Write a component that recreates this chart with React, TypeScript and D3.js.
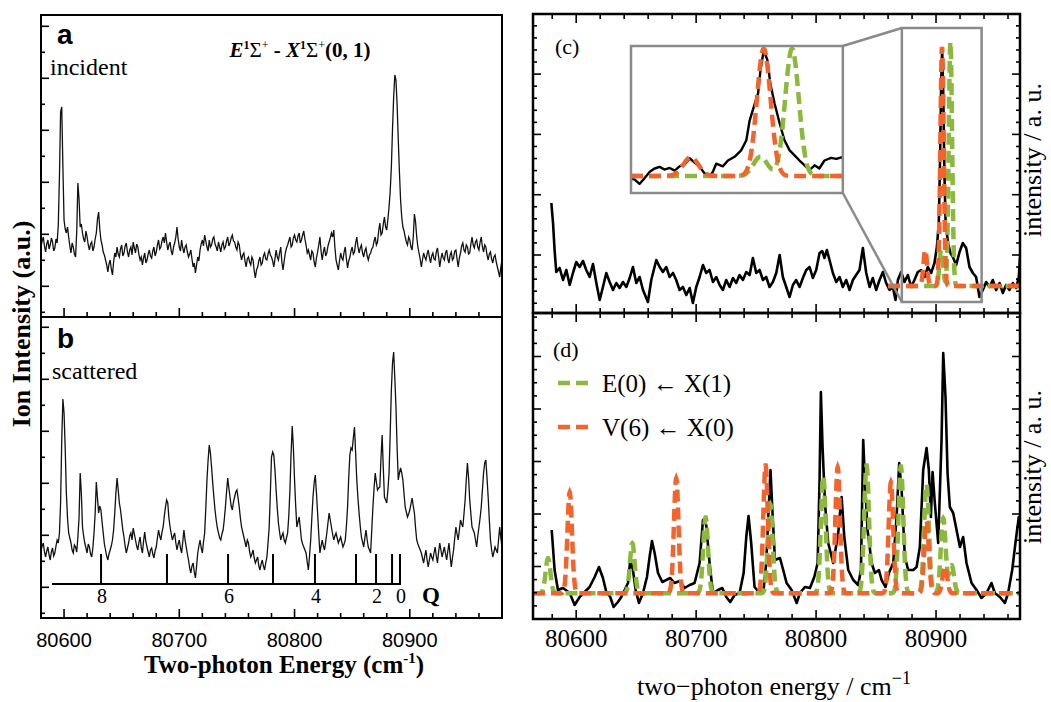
import React from 'react';
import * as d3 from 'd3';

// ---------- axes ----------
const leftXDomain = [80580, 80980];
const rightXDomain = [80564, 80970];
const xTickLabels = [80600, 80700, 80800, 80900];

// ---------- panel a / b (uniform grid, step 1 cm-1) ----------
const gridStart = 80580;
const gridStep = 1;
const incident = [
  70, 76, 80, 71, 65, 73, 77, 68, 72, 79, 75, 66, 69, 78, 74, 92, 140, 205, 210, 150,
  97, 88, 84, 90, 80, 71, 64, 74, 70, 63, 60, 85, 134, 118, 90, 93, 84, 78, 75, 86,
  80, 72, 67, 73, 75, 66, 70, 78, 84, 98, 105, 88, 77, 72, 65, 62, 57, 52, 45, 53,
  57, 48, 42, 55, 64, 60, 70, 63, 60, 68, 72, 61, 64, 71, 74, 65, 60, 67, 70, 62,
  75, 69, 64, 73, 70, 62, 57, 60, 52, 59, 64, 54, 57, 63, 67, 61, 59, 66, 70, 61,
  65, 72, 77, 68, 70, 76, 80, 74, 84, 75, 67, 72, 75, 66, 62, 70, 74, 80, 90, 78,
  70, 66, 77, 69, 64, 70, 72, 65, 60, 63, 67, 58, 50, 54, 44, 52, 60, 56, 67, 73,
  77, 71, 82, 76, 70, 66, 77, 70, 72, 78, 80, 73, 70, 66, 75, 70, 65, 72, 75, 68,
  70, 76, 80, 71, 74, 79, 82, 76, 75, 70, 67, 75, 72, 63, 57, 62, 64, 56, 50, 58,
  60, 55, 52, 60, 57, 46, 39, 47, 50, 56, 60, 52, 54, 61, 64, 58, 57, 63, 67, 62,
  60, 56, 50, 58, 67, 60, 57, 64, 70, 55, 47, 56, 64, 69, 72, 76, 80, 70, 72, 79,
  82, 77, 75, 81, 84, 74, 77, 82, 86, 78, 72, 64, 67, 62, 57, 66, 64, 55, 50, 59,
  65, 72, 80, 66, 57, 65, 70, 61, 64, 71, 75, 79, 84, 80, 87, 70, 57, 52, 47, 56,
  64, 59, 57, 65, 70, 58, 49, 56, 60, 66, 70, 63, 65, 74, 80, 70, 64, 69, 72, 64,
  60, 66, 69, 61, 57, 62, 64, 68, 70, 76, 80, 72, 75, 86, 94, 82, 84, 93, 100, 90,
  87, 98, 110, 126, 150, 188, 220, 242, 237, 212, 177, 145, 117, 100, 90, 86, 80, 75, 72, 80,
  77, 70, 67, 80, 103, 95, 80, 70, 64, 58, 50, 57, 64, 60, 57, 63, 67, 60, 54, 61,
  64, 58, 57, 65, 69, 60, 50, 58, 64, 59, 57, 64, 67, 58, 54, 62, 65, 57, 59, 66,
  67, 58, 50, 59, 64, 71, 74, 67, 65, 72, 70, 63, 64, 73, 80, 72, 69, 75, 77, 70,
  67, 75, 80, 70, 65, 72, 70, 62, 57, 63, 65, 58, 54, 60, 62, 55, 50, 45, 40, 50,
  57,
];
const scattered = [
  68, 72, 75, 66, 61, 67, 71, 63, 58, 66, 70, 62, 65, 72, 78, 75, 85, 115, 178, 219,
  205, 170, 125, 100, 85, 80, 75, 68, 65, 73, 71, 66, 81, 100, 145, 125, 91, 82, 75, 70,
  65, 74, 71, 64, 61, 70, 85, 105, 136, 120, 105, 112, 108, 96, 85, 74, 68, 62, 58, 64,
  68, 72, 78, 88, 105, 125, 140, 128, 115, 108, 98, 88, 81, 72, 65, 70, 75, 82, 85, 78,
  90, 84, 78, 72, 68, 76, 81, 70, 65, 77, 86, 76, 71, 66, 61, 68, 70, 64, 60, 67,
  71, 80, 88, 82, 78, 86, 91, 102, 111, 118, 115, 100, 91, 84, 78, 82, 85, 75, 68, 74,
  78, 70, 65, 76, 88, 78, 71, 64, 58, 50, 45, 52, 55, 46, 40, 52, 65, 72, 78, 70,
  65, 76, 85, 110, 138, 158, 173, 165, 151, 135, 121, 108, 98, 90, 85, 80, 78, 84, 88, 98,
  111, 126, 140, 130, 121, 112, 108, 116, 121, 126, 128, 120, 111, 100, 91, 86, 81, 76, 71, 78,
  75, 66, 61, 64, 68, 60, 55, 58, 61, 52, 48, 54, 58, 52, 48, 55, 61, 75, 91, 125,
  161, 166, 163, 148, 128, 110, 95, 86, 78, 82, 85, 78, 75, 80, 85, 102, 128, 165, 192, 170,
  138, 112, 91, 96, 101, 90, 78, 74, 71, 68, 65, 56, 48, 62, 78, 100, 121, 135, 143, 125,
  105, 84, 65, 72, 78, 72, 68, 76, 85, 95, 105, 98, 91, 84, 78, 82, 85, 80, 75, 78,
  81, 76, 71, 74, 78, 92, 111, 140, 163, 170, 168, 180, 191, 165, 138, 120, 105, 92, 81, 76,
  71, 80, 88, 78, 71, 68, 65, 88, 111, 130, 145, 136, 128, 130, 131, 160, 183, 150, 121, 118,
  115, 128, 145, 185, 228, 255, 266, 240, 211, 170, 138, 145, 150, 145, 138, 124, 111, 106, 101, 104,
  108, 114, 120, 112, 105, 90, 78, 74, 71, 68, 65, 60, 55, 62, 68, 58, 51, 58, 65, 61,
  58, 65, 71, 62, 55, 66, 75, 68, 61, 66, 71, 64, 58, 67, 75, 62, 51, 60, 68, 80,
  91, 84, 78, 88, 98, 94, 91, 104, 118, 138, 155, 140, 118, 104, 91, 88, 85, 78, 71, 82,
  91, 100, 111, 128, 145, 155, 158, 140, 121, 98, 78, 68, 61, 66, 71, 68, 65, 78, 91, 80,
  71,
];

// Q-branch ladder (J, position)
const qJ = [8, 7, 6, 5, 4, 3, 2, 1, 0];
const qPos = [80632.1, 80689.3, 80742.3, 80781.3, 80817.7, 80853.3, 80870.7, 80884.6, 80891.5];
const qLineStart = 80589.5;
const qLineEnd = 80892.4;
const qLevels = [34, 64];

// ---------- panel c ----------
const traceC: [number, number][] = [
  [80579.3,110],[80580.7,90],[80582,63],[80583.4,41],[80586.2,45],[80589,33],[80591.8,43],[80594.6,28],[80597.3,40],[80600.1,51],
  [80602.9,46],[80605.7,52],[80608.4,43],[80611.2,36],[80614,49],[80616.8,30],[80619.6,13],[80622.3,26],[80625.1,40],[80627.9,31],
  [80630.7,23],[80633.4,30],[80636.2,25],[80639,31],[80641.8,26],[80644.6,35],[80647.3,46],[80650.1,30],[80652.9,36],[80655.7,23],
  [80659.8,11],[80662.6,33],[80666.8,53],[80669.6,46],[80672.3,41],[80675.1,46],[80677.9,36],[80680.7,40],[80683.4,33],[80686.2,23],
  [80689,26],[80691.8,18],[80694.6,25],[80697.3,10],[80700.1,26],[80702.9,36],[80705.7,48],[80708.4,40],[80711.2,43],[80714,31],
  [80716.8,36],[80719.6,28],[80722.3,23],[80725.1,33],[80727.9,26],[80730.7,35],[80733.4,30],[80736.2,38],[80739,33],[80741.8,41],
  [80744.6,38],[80747.3,55],[80750.1,40],[80752.9,43],[80755.7,33],[80758.4,36],[80761.2,26],[80764,31],[80766.8,40],[80769.6,58],
  [80772.3,36],[80775.1,26],[80777.9,16],[80780.7,28],[80783.4,33],[80786.2,26],[80789,35],[80791.8,43],[80794.6,46],[80797.3,35],
  [80800.1,43],[80802.9,60],[80805.1,62],[80807,55],[80809,63],[80811.2,53],[80814,40],[80816.8,31],[80819.6,36],[80822.3,26],
  [80825.1,33],[80827.9,23],[80830.7,33],[80833.4,38],[80836.2,43],[80839,65],[80841.8,40],[80844.6,26],[80847.3,35],[80850.1,23],
  [80852.9,33],[80855.7,41],[80858.4,30],[80861.2,23],[80864,26],[80866.2,13],[80868.2,33],[80870.9,41],[80873.7,31],[80876.5,38],
  [80879.3,26],[80882,33],[80884.8,41],[80887.6,43],[80890.4,36],[80893.2,46],[80895.9,40],[80898.7,50],[80900.7,66],[80902.3,90],
  [80903.3,150],[80904.3,230],[80905.1,264],[80906,220],[80907,140],[80908,90],[80910,70],[80912,60],[80914,56],[80916.8,48],
  [80919.6,61],[80922.3,70],[80925.1,65],[80927.9,46],[80930.7,40],[80933.4,36],[80936.2,16],[80939,23],[80941.8,31],[80944.6,26],
  [80947.3,33],[80950.1,23],[80952.9,30],[80955.7,20],[80958.4,28],[80961.2,23],[80964,30],[80966.8,25],[80969,36],[80970,56],
];
// simulated line lists: [centre, amplitude, width]
const baselineC = 27;
const modelCRange = [80860, 80970];
const peaksC_E: [number, number, number][] = [[80904.3, 36, 1.5], [80912, 244, 1.4]];
const peaksC_V: [number, number, number][] = [[80891, 36, 1.5], [80905, 239, 1.4]];

// inset of panel c
const insetXDomain = [80880, 80925];
const insetYDomain = [-5, 271];
const insetPlaceX = [80645.7, 80822.3];
const insetPlaceY = [120, 267];
const zoomBoxX = [80871.5, 80938];
const zoomBoxY = [11, 285];
const traceInset: [number, number][] = [
  [80880,22],[80880.8,20],[80881.8,12],[80882.9,23],[80884,35],[80885,41],[80886.1,44],[80887.1,39],[80888.2,42],[80889.3,37],
  [80890.3,45],[80891.4,49],[80892.5,60],[80893.5,52],[80894.6,44],[80895.6,32],[80896.7,26],[80897.4,35],[80898.1,50],[80899.5,45],
  [80900.6,56],[80902,63],[80903.4,75],[80904.5,94],[80905.2,131],[80906.1,157],[80907,182],[80907.5,225],[80908.2,263],[80909,244],
  [80909.6,200],[80910.5,163],[80911.6,125],[80912.6,94],[80913.7,75],[80914.7,66],[80915.8,56],[80916.9,47],[80917.9,38],[80919,47],
  [80920,41],[80921.1,56],[80922.5,61],[80923.6,59],[80924.7,62],[80925,60],
];
const peaksI_E: [number, number, number][] = [[80907.5, 36, 1.5], [80914.2, 239, 1.45]];
const peaksI_V: [number, number, number][] = [[80892.7, 35, 1.6], [80908.2, 239, 1.45]];

// ---------- panel d ----------
const traceD: [number, number][] = [
  [80579.6,89],[80582,49],[80584.8,29],[80589,31],[80594.6,26],[80598.7,14],[80602.9,22],[80607,27],[80611.2,32],[80615.4,42],
  [80619,52],[80622.3,41],[80625.1,27],[80628.4,22],[80631.2,12],[80634.8,17],[80637.6,22],[80640.4,29],[80643.2,36],[80645.1,59],
  [80647.3,49],[80649.6,29],[80652.3,16],[80655.7,26],[80659,42],[80661.2,62],[80663.2,78],[80665.4,66],[80668.2,46],[80671.8,37],
  [80675.1,39],[80678.4,41],[80682,36],[80686.2,38],[80690.4,31],[80694.6,34],[80698.7,36],[80702.9,56],[80705.7,99],[80708.4,94],
  [80711.2,56],[80714,26],[80718.2,29],[80721.8,31],[80725.1,22],[80728.4,17],[80732.1,24],[80736.2,26],[80739.6,46],[80741.8,82],
  [80743.7,103],[80745.9,76],[80748.7,32],[80752.9,26],[80756.2,29],[80758.4,56],[80760.7,116],[80762,149],[80763.5,110],[80765.7,59],
  [80769.9,61],[80772.6,49],[80775.4,36],[80779.6,29],[80783.8,16],[80786.5,26],[80790.7,32],[80794.9,31],[80798.5,42],[80801.3,56],
  [80802.9,139],[80804,227],[80805.4,172],[80807.4,116],[80810.1,76],[80814.3,56],[80818.5,86],[80819.6,102],[80821.3,122],[80823.5,82],
  [80826.8,49],[80831,39],[80835.1,34],[80837.4,49],[80839.3,179],[80840.7,139],[80842.9,89],[80846.3,56],[80849,46],[80852.4,49],
  [80854.6,39],[80857.9,32],[80860.7,46],[80864.3,56],[80867.1,102],[80869.3,156],[80871.3,129],[80874,62],[80876.8,49],[80881,49],
  [80883.8,52],[80886.5,72],[80889.3,149],[80892.1,171],[80894,149],[80895.7,102],[80897.1,147],[80899,116],[80901.8,76],[80904.6,179],
  [80906,266],[80907.9,222],[80909.6,146],[80911.5,112],[80914.3,106],[80917.1,89],[80919.9,72],[80922.6,82],[80925.4,56],[80929.6,36],
  [80933.8,29],[80937.9,21],[80942.1,26],[80946.2,36],[80949,26],[80953.2,22],[80957.4,16],[80960.1,26],[80963.5,49],[80966.2,76],
  [80969,102],[80970,95],
];
const baselineD = 25.7;
const peaksD_E: [number, number, number][] = [
  [80576.5, 35, 2], [80646.8, 50, 2], [80707.9, 76, 2], [80761.8, 89, 2], [80806, 117, 2],
  [80842.1, 128, 2], [80870.7, 127, 2], [80892.1, 109, 2], [80906, 75, 2], [80913, 28, 2],
];
const peaksD_V: [number, number, number][] = [
  [80594.6, 101, 1.9], [80683.4, 115, 1.9], [80757.9, 128, 1.9], [80818, 126, 1.9],
  [80862.4, 111, 1.9], [80892.1, 72, 1.9], [80907.4, 27, 1.9],
];

const legendItems = [
  { label: 'E(0) ← X(1)', color: 'green' },
  { label: 'V(6) ← X(0)', color: 'orange' },
];

// ---------- styling ----------
const W = 1051, H = 702;
const L = { x0: 41, x1: 502, aTop: 15, aBot: 317, bBot: 618 };
const R = { x0: 533, x1: 1020, cTop: 14, cBot: 313, dBot: 619 };
const serif = "'Liberation Serif', 'Times New Roman', serif";
const sans = "'Liberation Sans', Arial, sans-serif";
const GREEN = '#8cb83e';
const ORANGE = '#f2642e';
const GRAY = '#8a8a8a';
const DASH = '12 6';

function model(peaks: [number, number, number][], base: number, range: number[], step = 0.2): [number, number][] {
  const out: [number, number][] = [];
  const n = Math.round((range[1] - range[0]) / step);
  for (let i = 0; i <= n; i++) {
    const x = range[0] + i * step;
    let y = base;
    for (const [c, a, s] of peaks) y += a * Math.exp(-0.5 * ((x - c) / s) ** 2);
    out.push([x, y]);
  }
  return out;
}

export default function App() {
  const xL = d3.scaleLinear().domain(leftXDomain).range([L.x0, L.x1]);
  const yA = d3.scaleLinear().domain([0, 302]).range([L.aBot, L.aTop]);
  const yB = d3.scaleLinear().domain([0, 301]).range([L.bBot, L.aBot]);
  const xR = d3.scaleLinear().domain(rightXDomain).range([R.x0, R.x1]);
  const yC = d3.scaleLinear().domain([0, 299]).range([R.cBot, R.cTop]);
  const yD = d3.scaleLinear().domain([0, 306]).range([R.dBot, R.cBot]);
  const xI = d3.scaleLinear().domain(insetXDomain).range([xR(insetPlaceX[0]), xR(insetPlaceX[1])]);
  const yI = d3.scaleLinear().domain(insetYDomain).range([yC(insetPlaceY[0]), yC(insetPlaceY[1])]);

  const mk = (xs: any, ys: any) => d3.line<[number, number]>().x(d => xs(d[0])).y(d => ys(d[1]));

  const aData: [number, number][] = incident.map((v, i) => [gridStart + i * gridStep, v]);
  const bData: [number, number][] = scattered.map((v, i) => [gridStart + i * gridStep, v]);

  const lxTicks = d3.range(80600, 80961, 20);
  const rxTicks = d3.range(80580, 80961, 20);
  const lyTicks = d3.range(0, 12).map(k => ({ v: 4.7 + 26 * k, major: k % 2 === 1 }));
  const cyTicks = d3.range(0, 24).map(m => ({ v: 9.76 + 12.06 * m, major: m % 5 === 4 }));
  const dyTicks = d3.range(1, 24).map(m => ({ v: 13.125 * m, major: m % 4 === 0 }));

  const ix0 = xI.range()[0], ix1 = xI.range()[1];
  const iyb = yI.range()[0], iyt = yI.range()[1];
  const zx0 = xR(zoomBoxX[0]), zx1 = xR(zoomBoxX[1]);
  const zyb = yC(zoomBoxY[0]), zyt = yC(zoomBoxY[1]);

  const colorOf = (c: string) => (c === 'green' ? GREEN : ORANGE);

  return (
    <svg width={W} height={H} style={{ position: 'absolute', left: 0, top: 0, background: '#fff' }}>
      <defs>
        <clipPath id="clipA"><rect x={L.x0} y={L.aTop} width={L.x1 - L.x0} height={L.aBot - L.aTop} /></clipPath>
        <clipPath id="clipB"><rect x={L.x0} y={L.aBot} width={L.x1 - L.x0} height={L.bBot - L.aBot} /></clipPath>
        <clipPath id="clipC"><rect x={R.x0} y={R.cTop} width={R.x1 - R.x0} height={R.cBot - R.cTop} /></clipPath>
        <clipPath id="clipD"><rect x={R.x0} y={R.cBot} width={R.x1 - R.x0} height={R.dBot - R.cBot} /></clipPath>
        <clipPath id="clipI"><rect x={ix0} y={iyt} width={ix1 - ix0} height={iyb - iyt} /></clipPath>
      </defs>
      <rect width={W} height={H} fill="#fff" />

      {/* ================= LEFT ================= */}
      <g clipPath="url(#clipA)">
        <path d={mk(xL, yA)(aData) || ''} fill="none" stroke="#111" strokeWidth={1.3} />
      </g>
      <g clipPath="url(#clipB)">
        <path d={mk(xL, yB)(bData) || ''} fill="none" stroke="#111" strokeWidth={1.3} />
      </g>
      {/* Q ladder */}
      <line x1={xL(qLineStart)} x2={xL(qLineEnd)} y1={yB(qLevels[0])} y2={yB(qLevels[0])} stroke="#000" strokeWidth={2} />
      {qPos.map((p, i) => (
        <line key={'q' + i} x1={xL(p)} x2={xL(p)} y1={yB(qLevels[0])} y2={yB(qLevels[1])} stroke="#000" strokeWidth={2} />
      ))}
      {qPos.map((p, i) => qJ[i] % 2 === 0 ? (
        <text key={'ql' + i} x={xL(p) + 1} y={yB(qLevels[0]) + 19} fontFamily={serif} fontSize={20} textAnchor="middle">{qJ[i]}</text>
      ) : null)}
      <text x={xL(qLineEnd) + 30} y={yB(qLevels[0]) + 19} fontFamily={serif} fontWeight="bold" fontSize={23} textAnchor="middle">Q</text>

      {/* frames */}
      <rect x={L.x0} y={L.aTop} width={L.x1 - L.x0} height={L.aBot - L.aTop} fill="none" stroke="#000" strokeWidth={2} />
      <rect x={L.x0} y={L.aBot} width={L.x1 - L.x0} height={L.bBot - L.aBot} fill="none" stroke="#000" strokeWidth={2} />
      {/* left ticks */}
      {[L.aBot, L.bBot].map((yb, j) => lxTicks.map(t => (
        <line key={'lx' + j + t} x1={xL(t)} x2={xL(t)} y1={yb} y2={yb - (t % 100 === 0 ? 9 : 5)} stroke="#000" strokeWidth={1.6} />
      )))}
      {lyTicks.map((t, i) => (
        <line key={'lya' + i} x1={L.x0} x2={L.x0 + (t.major ? 8 : 4)} y1={yA(t.v)} y2={yA(t.v)} stroke="#000" strokeWidth={1.6} />
      ))}
      {lyTicks.map((t, i) => (
        <line key={'lyb' + i} x1={L.x0} x2={L.x0 + (t.major ? 8 : 4)} y1={yB(t.v)} y2={yB(t.v)} stroke="#000" strokeWidth={1.6} />
      ))}
      {xTickLabels.map(t => (
        <text key={'lxl' + t} x={xL(t)} y={647} fontFamily={sans} fontSize={20} textAnchor="middle">{t}</text>
      ))}
      <text x={284} y={673} fontFamily={serif} fontWeight="bold" fontSize={25} textAnchor="middle">
        Two-photon Energy (cm<tspan dy={-10} fontSize={15}>-1</tspan><tspan dy={10}>)</tspan>
      </text>
      <text transform="translate(30,324) rotate(-90)" fontFamily={serif} fontWeight="bold" fontSize={26} textAnchor="middle">Ion Intensity (a.u.)</text>
      <text x={57} y={44} fontFamily={sans} fontWeight="bold" fontSize={28}>a</text>
      <text x={57} y={348} fontFamily={sans} fontWeight="bold" fontSize={28}>b</text>
      <text x={50} y={75} fontFamily={serif} fontSize={24}>incident</text>
      <text x={52} y={379} fontFamily={serif} fontSize={24}>scattered</text>
      <text x={300} y={57} fontFamily={serif} fontWeight="bold" fontSize={21} textAnchor="middle">
        <tspan fontStyle="italic">E</tspan><tspan dy={-8} fontSize={12}>1</tspan><tspan dy={8} fontWeight="normal">Σ</tspan><tspan dy={-8} fontSize={12} fontWeight="normal">+</tspan><tspan dy={8}> - </tspan><tspan fontStyle="italic">X</tspan><tspan dy={-8} fontSize={12}>1</tspan><tspan dy={8} fontWeight="normal">Σ</tspan><tspan dy={-8} fontSize={12} fontWeight="normal">+</tspan><tspan dy={8}>(0, 1)</tspan>
      </text>

      {/* ================= RIGHT: panel c ================= */}
      <g clipPath="url(#clipC)">
        <path d={mk(xR, yC)(traceC) || ''} fill="none" stroke="#000" strokeWidth={2.6} strokeLinejoin="round" />
        <path d={mk(xR, yC)(model(peaksC_E, baselineC, modelCRange)) || ''} fill="none" stroke={GREEN} strokeWidth={4.5} strokeDasharray={DASH} />
        <path d={mk(xR, yC)(model(peaksC_V, baselineC, modelCRange)) || ''} fill="none" stroke={ORANGE} strokeWidth={4.5} strokeDasharray={DASH} />
      </g>
      {/* zoom box and connectors */}
      <rect x={zx0} y={zyt} width={zx1 - zx0} height={zyb - zyt} fill="none" stroke={GRAY} strokeWidth={2.5} />
      <line x1={ix1} y1={iyt} x2={zx0} y2={zyt} stroke={GRAY} strokeWidth={2.5} />
      <line x1={ix1} y1={iyb} x2={zx0} y2={zyb} stroke={GRAY} strokeWidth={2.5} />
      {/* inset */}
      <rect x={ix0} y={iyt} width={ix1 - ix0} height={iyb - iyt} fill="#fff" />
      <g clipPath="url(#clipI)">
        <path d={mk(xI, yI)(traceInset) || ''} fill="none" stroke="#000" strokeWidth={2.4} strokeLinejoin="round" />
        <path d={mk(xI, yI)(model(peaksI_E, baselineC, insetXDomain)) || ''} fill="none" stroke={GREEN} strokeWidth={4.5} strokeDasharray={DASH} />
        <path d={mk(xI, yI)(model(peaksI_V, baselineC, insetXDomain)) || ''} fill="none" stroke={ORANGE} strokeWidth={4.5} strokeDasharray={DASH} />
      </g>
      <rect x={ix0} y={iyt} width={ix1 - ix0} height={iyb - iyt} fill="none" stroke={GRAY} strokeWidth={2.5} />

      {/* ================= RIGHT: panel d ================= */}
      <g clipPath="url(#clipD)">
        <path d={mk(xR, yD)(traceD) || ''} fill="none" stroke="#000" strokeWidth={2.6} strokeLinejoin="round" />
        <path d={mk(xR, yD)(model(peaksD_E, baselineD, rightXDomain)) || ''} fill="none" stroke={GREEN} strokeWidth={4.5} strokeDasharray={DASH} />
        <path d={mk(xR, yD)(model(peaksD_V, baselineD, rightXDomain)) || ''} fill="none" stroke={ORANGE} strokeWidth={4.5} strokeDasharray={DASH} />
      </g>

      {/* right frames + ticks */}
      {[[R.cTop, R.cBot, yC, cyTicks], [R.cBot, R.dBot, yD, dyTicks]].map(([top, bot, ys, yt]: any, j) => (
        <g key={'rf' + j}>
          <rect x={R.x0} y={top} width={R.x1 - R.x0} height={bot - top} fill="none" stroke="#000" strokeWidth={2.5} />
          {rxTicks.map(t => {
            const len = t % 100 === 0 ? 9 : 5;
            return (
              <g key={'rx' + t}>
                <line x1={xR(t)} x2={xR(t)} y1={bot} y2={bot - len} stroke="#000" strokeWidth={1.6} />
                <line x1={xR(t)} x2={xR(t)} y1={top} y2={top + len} stroke="#000" strokeWidth={1.6} />
              </g>
            );
          })}
          {yt.map((t: any, i: number) => {
            const len = t.major ? 8 : 4;
            return (
              <g key={'ry' + i}>
                <line x1={R.x0} x2={R.x0 + len} y1={ys(t.v)} y2={ys(t.v)} stroke="#000" strokeWidth={1.6} />
                <line x1={R.x1} x2={R.x1 - len} y1={ys(t.v)} y2={ys(t.v)} stroke="#000" strokeWidth={1.6} />
              </g>
            );
          })}
        </g>
      ))}
      {xTickLabels.map(t => (
        <text key={'rxl' + t} x={xR(t)} y={647} fontFamily={serif} fontSize={25} textAnchor="middle">{t}</text>
      ))}
      <text x={774} y={695} fontFamily={serif} fontSize={26} textAnchor="middle">
        two−photon energy / cm<tspan dy={-11} fontSize={18}>−1</tspan>
      </text>
      <text transform="translate(1041,160) rotate(-90)" fontFamily={serif} fontSize={26} textAnchor="middle">intensity / a. u.</text>
      <text transform="translate(1041,467) rotate(-90)" fontFamily={serif} fontSize={26} textAnchor="middle">intensity / a. u.</text>
      <text x={555} y={54} fontFamily={serif} fontSize={22}>(c)</text>
      <text x={553} y={357} fontFamily={serif} fontSize={22}>(d)</text>
      {legendItems.map((it, i) => (
        <g key={'lg' + i}>
          <line x1={558} x2={594} y1={383 + i * 44} y2={383 + i * 44} stroke={colorOf(it.color)} strokeWidth={4.5} strokeDasharray={DASH} />
          <text x={602} y={392 + i * 44} fontFamily={serif} fontSize={25}>{it.label}</text>
        </g>
      ))}
    </svg>
  );
}
